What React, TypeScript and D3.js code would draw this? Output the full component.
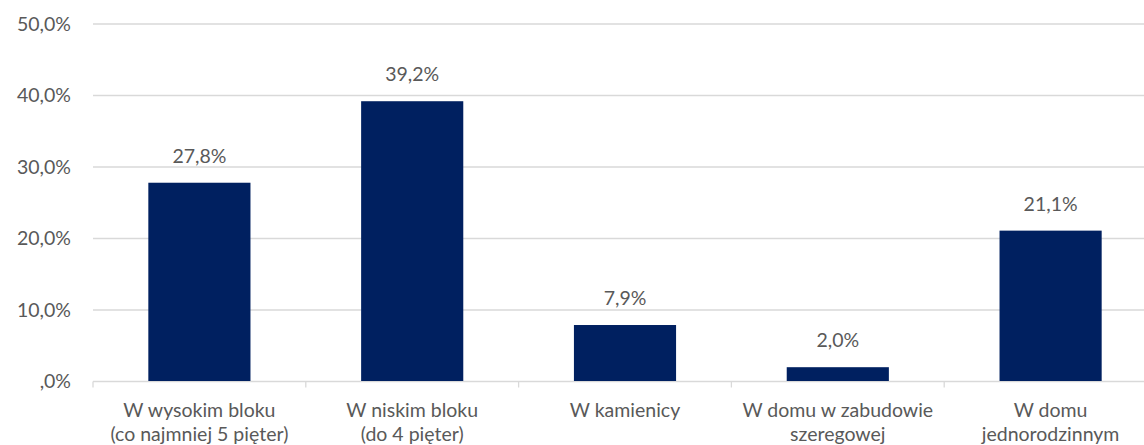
import React from "react";
import * as d3 from "d3";

const categories: string[][] = [
  ["W wysokim bloku", "(co najmniej 5 pięter)"],
  ["W niskim bloku", "(do 4 pięter)"],
  ["W kamienicy"],
  ["W domu w zabudowie", "szeregowej"],
  ["W domu", "jednorodzinnym"],
];
const values: number[] = [27.8, 39.2, 7.9, 2.0, 21.1];
const yTicks: number[] = [0, 10, 20, 30, 40, 50];

const W = 1144;
const H = 445;
const left = 93;
const right = 1157;
const top = 24;
const bottom = 381.5;
const FONT = "Lato, 'Open Sans', sans-serif";
const FS = 19.5;
const TEXT = "#595959";
const GRID = "#d9d9d9";
const BAR = "#002060";

const fmt = (v: number) => {
  const s = v.toFixed(1).replace(".", ",");
  return (s.startsWith("0,") ? s.slice(1) : s) + "%";
};

export default function App() {
  const x = d3
    .scaleBand<number>()
    .domain(d3.range(categories.length))
    .range([left, right])
    .paddingInner(0.52)
    .paddingOuter(0.26);
  const band = d3.scaleBand<number>().domain(d3.range(categories.length)).range([left, right]);
  const y = d3.scaleLinear().domain([0, 50]).range([bottom, top]);

  return (
    <svg
      width={W}
      height={H}
      style={{ position: "absolute", left: 0, top: 0, display: "block", background: "#fff" }}
      fontFamily={FONT}
    >
      {yTicks.map((t) => (
        <g key={t}>
          {t > 0 && (
            <line x1={left} x2={W} y1={y(t)} y2={y(t)} stroke={GRID} strokeWidth={1.3} />
          )}
          <text x={71} y={y(t)} dy="0.35em" textAnchor="end" fontSize={FS} fill={TEXT}>
            {fmt(t)}
          </text>
        </g>
      ))}
      <line x1={left} x2={W} y1={bottom} y2={bottom} stroke={GRID} strokeWidth={1.3} />
      {d3.range(categories.length + 1).map((i) => {
        const xx = i < categories.length ? band(i)! : right;
        return <line key={i} x1={xx} x2={xx} y1={bottom} y2={bottom + 6} stroke={GRID} strokeWidth={1.3} />;
      })}
      {values.map((v, i) => (
        <g key={i}>
          <rect x={x(i)} y={y(v)} width={x.bandwidth()} height={bottom - 0.5 - y(v)} fill={BAR} />
          <text
            x={x(i)! + x.bandwidth() / 2}
            y={y(v) - 20}
            textAnchor="middle"
            fontSize={FS}
            fill={TEXT}
          >
            {fmt(v)}
          </text>
        </g>
      ))}
      {categories.map((lines, i) => (
        <text key={i} textAnchor="middle" fontSize={FS} fill={TEXT}>
          {lines.map((l, j) => (
            <tspan key={j} x={band(i)! + band.bandwidth() / 2} y={417 + j * 24}>
              {l}
            </tspan>
          ))}
        </text>
      ))}
    </svg>
  );
}
